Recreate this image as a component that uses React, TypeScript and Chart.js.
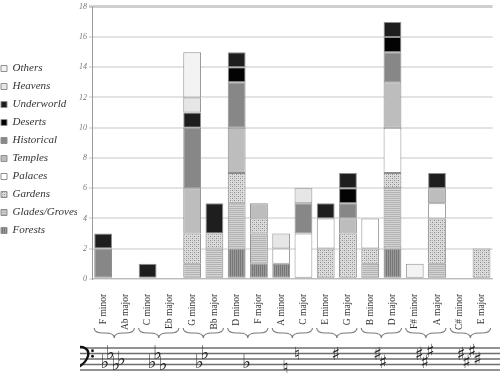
import React, { useEffect, useRef } from "react";
import { Chart, registerables } from "chart.js";

Chart.register(...registerables);

const categories = [
  "F minor", "Ab major", "C minor", "Eb major", "G minor", "Bb major",
  "D minor", "F major", "A minor", "C major", "E minor", "G major",
  "B minor", "D major", "F# minor", "A major", "C# minor", "E major",
];

const forests = [0, 0, 0, 0, 0, 0, 2, 1, 1, 0, 0, 0, 0, 2, 0, 0, 0, 0];
const glades = [0, 0, 0, 0, 1, 2, 3, 2, 0, 0, 0, 0, 1, 4, 0, 1, 0, 0];
const gardens = [0, 0, 0, 0, 2, 1, 2, 1, 0, 0, 2, 3, 1, 1, 0, 3, 0, 2];
const palaces = [0, 0, 0, 0, 0, 0, 0, 0, 1, 3, 2, 0, 2, 3, 0, 1, 0, 0];
const temples = [0, 0, 0, 0, 3, 0, 3, 1, 0, 0, 0, 1, 0, 3, 0, 1, 0, 0];
const historical = [2, 0, 0, 0, 4, 0, 3, 0, 0, 2, 0, 1, 0, 2, 0, 0, 0, 0];
const deserts = [0, 0, 0, 0, 0, 0, 1, 0, 0, 0, 0, 1, 0, 1, 0, 0, 0, 0];
const underworld = [1, 0, 1, 0, 1, 2, 1, 0, 0, 0, 1, 1, 0, 1, 0, 1, 0, 0];
const heavens = [0, 0, 0, 0, 1, 0, 0, 0, 1, 1, 0, 0, 0, 0, 0, 0, 0, 0];
const others = [0, 0, 0, 0, 3, 0, 0, 0, 0, 0, 0, 0, 0, 0, 1, 0, 0, 0];

const yTicks = [0, 2, 4, 6, 8, 10, 12, 14, 16, 18];

// key signatures for each pair of categories (minor / relative major)
const keySigs: { type: string; steps: number[] }[] = [
  { type: "flat", steps: [6, 3, 7, 5] },
  { type: "flat", steps: [6, 3, 7] },
  { type: "flat", steps: [6, 3] },
  { type: "flat", steps: [6] },
  { type: "natural", steps: [7, 2] },
  { type: "sharp", steps: [2] },
  { type: "sharp", steps: [2, 5] },
  { type: "sharp", steps: [2, 5, 1] },
  { type: "sharp", steps: [2, 5, 1, 4] },
];

function makePattern(kind: string): CanvasPattern | string {
  const c = document.createElement("canvas");
  c.width = 4;
  c.height = 4;
  const g = c.getContext("2d")!;
  if (kind === "vertical") {
    g.fillStyle = "#999999";
    g.fillRect(0, 0, 4, 4);
    g.fillStyle = "#777777";
    g.fillRect(0, 0, 1, 4);
    g.fillRect(2, 0, 1, 4);
  } else if (kind === "horizontal") {
    g.fillStyle = "#d4d4d4";
    g.fillRect(0, 0, 4, 4);
    g.fillStyle = "#b2b2b2";
    g.fillRect(0, 0, 4, 1);
    g.fillRect(0, 2, 4, 1);
  } else {
    g.fillStyle = "#dcdcdc";
    g.fillRect(0, 0, 4, 4);
    g.fillStyle = "#8a8a8a";
    g.fillRect(0, 0, 1, 1);
    g.fillRect(2, 2, 1, 1);
    g.fillStyle = "#b8b8b8";
    g.fillRect(2, 0, 1, 1);
    g.fillRect(0, 2, 1, 1);
  }
  const p = g.createPattern(c, "repeat");
  return p || "#aaa";
}

const STAFF_TOP = 348;
const STAFF_GAP = 5.5;
const BRACE_Y = 328;
const BRACE_H = 10;
const LEGEND_WIDTH = 83;
const YAXIS_WIDTH = 15;

function drawBrace(ctx: CanvasRenderingContext2D, x1: number, x2: number, y: number, h: number) {
  const mid = (x1 + x2) / 2;
  const k = h * 0.9;
  ctx.beginPath();
  ctx.moveTo(x1, y);
  ctx.quadraticCurveTo(x1, y + h / 2, x1 + k, y + h / 2);
  ctx.lineTo(mid - k, y + h / 2);
  ctx.quadraticCurveTo(mid, y + h / 2, mid, y + h);
  ctx.quadraticCurveTo(mid, y + h / 2, mid + k, y + h / 2);
  ctx.lineTo(x2 - k, y + h / 2);
  ctx.quadraticCurveTo(x2, y + h / 2, x2, y);
  ctx.stroke();
}

const legendWidthPlugin = {
  id: "legendWidthPlugin",
  afterInit(chart: any) {
    const lg = chart.legend;
    if (!lg || lg.__patched) return;
    const orig = lg.fit.bind(lg);
    lg.fit = function () {
      orig();
      this.width = LEGEND_WIDTH;
    };
    lg.__patched = true;
  },
};

const staffPlugin = {
  id: "staffPlugin",
  afterDraw(chart: any) {
    const ctx: CanvasRenderingContext2D = chart.ctx;
    const xs = chart.scales.x;
    ctx.save();
    // braces
    ctx.strokeStyle = "#7a7a7a";
    ctx.lineWidth = 1.1;
    for (let i = 0; i < keySigs.length; i++) {
      const xa = xs.getPixelForValue(2 * i);
      const xb = xs.getPixelForValue(2 * i + 1);
      drawBrace(ctx, xa - 9, xb + 9, BRACE_Y, BRACE_H);
    }
    // staff
    const left = xs.left - 12;
    const right = chart.width;
    ctx.strokeStyle = "#6e6e6e";
    ctx.lineWidth = 1.3;
    for (let i = 0; i < 5; i++) {
      const y = STAFF_TOP + i * STAFF_GAP;
      ctx.beginPath();
      ctx.moveTo(left, y);
      ctx.lineTo(right, y);
      ctx.stroke();
    }
    // bass clef (clipped at staff start)
    ctx.save();
    ctx.beginPath();
    ctx.rect(left, 0, 100, chart.height);
    ctx.clip();
    ctx.strokeStyle = "#111";
    ctx.fillStyle = "#111";
    ctx.lineWidth = 2.4;
    ctx.beginPath();
    ctx.moveTo(left - 5, STAFF_TOP + 1);
    ctx.bezierCurveTo(left + 2, STAFF_TOP - 4, left + 10, STAFF_TOP + 1, left + 8, STAFF_TOP + 8);
    ctx.quadraticCurveTo(left + 6, STAFF_TOP + 15, left - 3, STAFF_TOP + 20);
    ctx.stroke();
    ctx.beginPath();
    ctx.arc(left + 12.5, STAFF_TOP + STAFF_GAP * 0.5, 1.4, 0, Math.PI * 2);
    ctx.fill();
    ctx.beginPath();
    ctx.arc(left + 12.5, STAFF_TOP + STAFF_GAP * 1.5, 1.4, 0, Math.PI * 2);
    ctx.fill();
    ctx.restore();
    // accidentals
    ctx.fillStyle = "#222";
    ctx.textAlign = "center";
    ctx.textBaseline = "alphabetic";
    for (let i = 0; i < keySigs.length; i++) {
      const ks = keySigs[i];
      const xa = xs.getPixelForValue(2 * i);
      const xb = xs.getPixelForValue(2 * i + 1);
      const c = (xa + xb) / 2 - 1;
      const sp = 5.5;
      const n = ks.steps.length;
      ks.steps.forEach((st, j) => {
        const x = c - ((n - 1) * sp) / 2 + j * sp;
        const y = STAFF_TOP + (st * STAFF_GAP) / 2;
        if (ks.type === "flat") {
          ctx.font = "19px 'DejaVu Sans'";
          ctx.fillText("\u266D", x, y + 3);
        } else if (ks.type === "sharp") {
          ctx.font = "18px 'DejaVu Sans'";
          ctx.fillText("\u266F", x, y + 6);
        } else {
          ctx.font = "18px 'DejaVu Sans'";
          ctx.fillText("\u266E", x + (j === 0 ? -3 : 3), y + 6);
        }
      });
    }
    ctx.restore();
  },
};

export default function App() {
  const ref = useRef<HTMLCanvasElement>(null);
  useEffect(() => {
    const canvas = ref.current!;
    const vertical = makePattern("vertical");
    const horizontal = makePattern("horizontal");
    const dots = makePattern("dots");
    const series = [
      { label: "Forests", data: forests, bg: vertical },
      { label: "Glades/Groves", data: glades, bg: horizontal },
      { label: "Gardens", data: gardens, bg: dots },
      { label: "Palaces", data: palaces, bg: "#ffffff" },
      { label: "Temples", data: temples, bg: "#bdbdbd" },
      { label: "Historical", data: historical, bg: "#878787" },
      { label: "Deserts", data: deserts, bg: "#030303" },
      { label: "Underworld", data: underworld, bg: "#1e1e1e" },
      { label: "Heavens", data: heavens, bg: "#e6e6e6" },
      { label: "Others", data: others, bg: "#f3f3f3" },
    ];
    const chart = new Chart(canvas, {
      type: "bar",
      data: {
        labels: categories,
        datasets: series.map((s) => ({
          label: s.label,
          data: s.data.map((v) => (v === 0 ? null : v)),
          backgroundColor: s.bg as any,
          borderColor: "#8e8e8e",
          borderWidth: 1,
          borderSkipped: false,
          barPercentage: 0.8,
          categoryPercentage: 1,
        })),
      },
      options: {
        animation: false,
        responsive: false,
        maintainAspectRatio: false,
        layout: { padding: { left: 0, right: 3, top: 0, bottom: 37 } },
        plugins: {
          tooltip: { enabled: false },
          legend: {
            position: "left",
            align: "start",
            reverse: true,
            title: { display: true, text: "", font: { size: 10 }, padding: { top: 22, bottom: 22 } },
            labels: {
              boxWidth: 6,
              boxHeight: 6,
              padding: 7,
              color: "#333",
              font: { family: "'Liberation Serif', serif", style: "italic", size: 11 },
            },
          },
        },
        scales: {
          x: {
            stacked: true,
            grid: { display: false },
            border: { display: true, color: "#bbb" },
            ticks: {
              autoSkip: false,
              minRotation: 90,
              maxRotation: 90,
              color: "#333",
              padding: 7,
              font: { family: "'Liberation Serif', serif", size: 9.5 },
            },
          },
          y: {
            stacked: true,
            min: 0,
            max: 18,
            afterFit: (s: any) => {
              s.width = YAXIS_WIDTH;
            },
            afterBuildTicks: (s: any) => {
              s.ticks = yTicks.map((v) => ({ value: v }));
            },
            grid: {
              color: (c: any) => (c.tick && c.tick.value === 18 ? "#cfcfcf" : "#e3e3e3"),
              lineWidth: (c: any) => (c.tick && c.tick.value === 18 ? 3 : 2),
              tickLength: 3,
            },
            border: { display: true, color: "#9a9a9a", width: 1 },
            ticks: {
              color: "#777",
              padding: 2,
              font: { family: "'Liberation Serif', serif", style: "italic", size: 8 },
            },
          },
        },
      },
      plugins: [legendWidthPlugin, staffPlugin],
    });
    return () => chart.destroy();
  }, []);
  return (
    <div style={{ position: "absolute", left: -6, top: 0, width: 506, height: 374, overflow: "hidden" }}>
      <canvas ref={ref} width={506} height={374} />
    </div>
  );
}
